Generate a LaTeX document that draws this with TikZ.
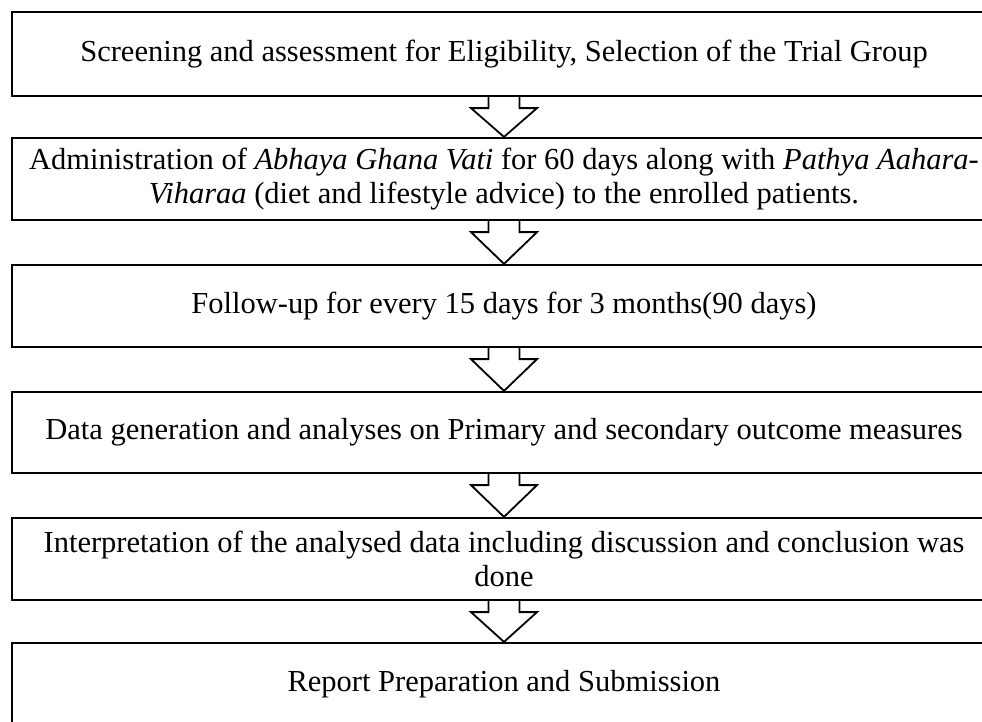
\documentclass[tikz,border=0pt]{standalone}
\usepackage{fontspec}
\setmainfont{Liberation Serif}
\usetikzlibrary{calc}
\tikzset{
  stagebox/.style={draw=black, line width=2.2pt, rectangle, minimum width=984pt,
    inner sep=0pt, align=center, font=\fontsize{30.5}{34}\selectfont},
  flowarrow/.style={draw=black, line width=1.8pt, line join=miter},
}
\begin{document}
\begin{tikzpicture}[x=1pt,y=-1pt]
\useasboundingbox (0,0) rectangle (982,721);
\clip (0,0) rectangle (982,721);
\node[stagebox, minimum height=84pt] (s1) at (504,54) {Screening and assessment for Eligibility, Selection of the Trial Group};
\node[stagebox, minimum height=82pt] (s2) at (504,179) {Administration of \textit{Abhaya Ghana Vati} for 60 days along with \textit{Pathya Aahara-}\\\textit{Viharaa} (diet and lifestyle advice) to the enrolled patients.};
\node[stagebox, minimum height=82pt] (s3) at (504,306) {Follow-up for every 15 days for 3 months(90 days)};
\node[stagebox, minimum height=81pt] (s4) at (504,432.5) {Data generation and analyses on Primary and secondary outcome measures};
\node[stagebox, minimum height=82pt] (s5) at (504,559) {Interpretation of the analysed data including discussion and conclusion was\\done};
\node[stagebox, minimum height=82pt] (s6) at (504,684) {Report Preparation and Submission};
\foreach \a/\b in {s1/s2,s2/s3,s3/s4,s4/s5,s5/s6}{
  \fill[white] ($(\a.south)+(-15.5,0)$) -- ($(\a.south)+(-15.5,11)$) -- ($(\a.south)+(-33,11)$)
     -- (\b.north) -- ($(\a.south)+(33,11)$) -- ($(\a.south)+(15.5,11)$) -- ($(\a.south)+(15.5,0)$) -- cycle;
  \draw[flowarrow] ($(\a.south)+(-15.5,0)$) -- ($(\a.south)+(-15.5,11)$) -- ($(\a.south)+(-33,11)$)
     -- (\b.north) -- ($(\a.south)+(33,11)$) -- ($(\a.south)+(15.5,11)$) -- ($(\a.south)+(15.5,0)$);
}
\end{tikzpicture}
\end{document}
